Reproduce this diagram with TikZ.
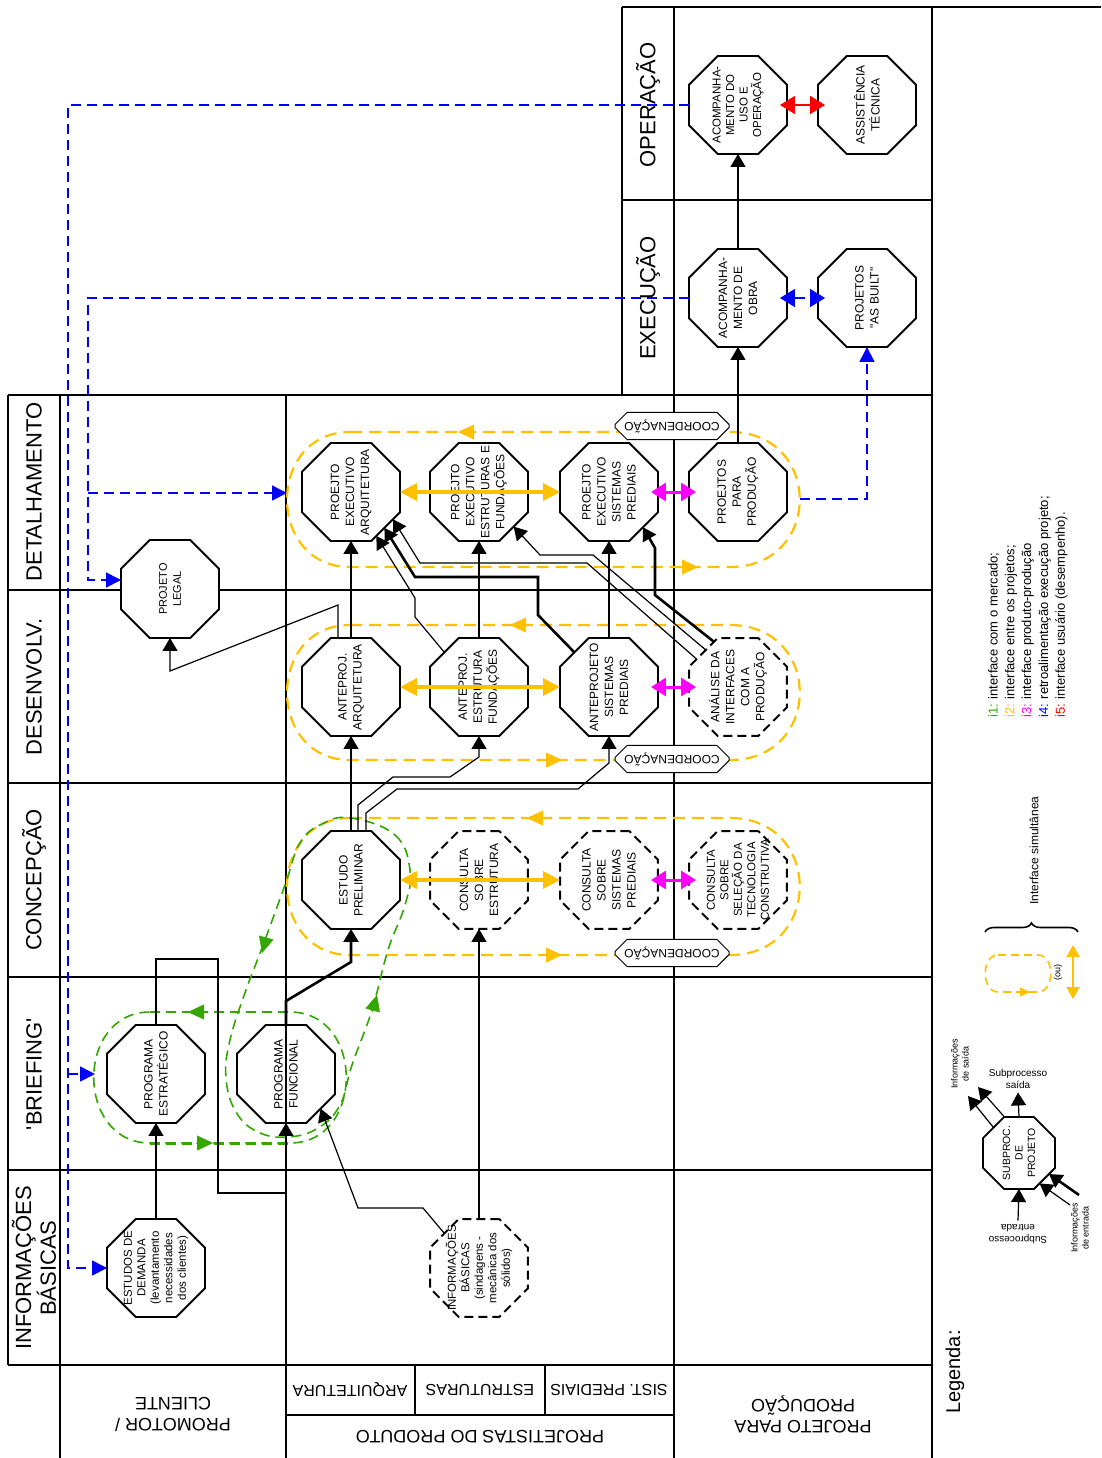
\documentclass[tikz,border=0pt]{standalone}
\usepackage{fontspec}
\setmainfont{Liberation Sans}
\usetikzlibrary{shapes.geometric, shapes.misc, arrows.meta, decorations.pathreplacing}

\definecolor{coordorange}{RGB}{255,192,0}
\definecolor{mktgreen}{RGB}{51,166,0}
\definecolor{prodmagenta}{RGB}{255,0,255}

\newcommand{\fsz}[2]{\fontsize{#1}{#2}\selectfont}

\tikzset{
  gridline/.style={line width=1.3pt},
  oct/.style={regular polygon, regular polygon sides=8, minimum size=106pt,
    inner sep=0pt, outer sep=0pt, draw, line width=1.8pt, fill=white},
  octdash/.style={oct, dash pattern=on 9pt off 5pt, line width=2pt},
  otxt/.style={rotate=90, align=center, inner sep=0pt, font=\fsz{12}{15}},
  otxts/.style={otxt, font=\fsz{11.5}{13.5}},
  phaselabel/.style={rotate=90, align=center, font=\fsz{22}{23}},
  colhead/.style={rotate=180, align=center, font=\fsz{18}{21}},
  subhead/.style={rotate=180, font=\fsz{16}{18}},
  coordbox/.style={chamfered rectangle, chamfered rectangle xsep=6pt,
    chamfered rectangle ysep=6pt, draw, fill=white, line width=1pt, rotate=180,
    minimum width=114pt, minimum height=27pt, inner sep=1pt, font=\fsz{12}{14}},
  flowtip/.style={-{Triangle[length=13pt,width=15pt]}},
  flow/.style={draw, line width=1.2pt, flowtip},
  flowthick/.style={flow, line width=2.6pt},
  coordloop/.style={draw=coordorange, line width=2.2pt, dash pattern=on 12pt off 7pt},
  mktloop/.style={draw=mktgreen, line width=1.6pt, dash pattern=on 10pt off 6pt},
  retro/.style={draw=blue, line width=1.6pt, dash pattern=on 10pt off 6pt,
    -{Triangle[length=15pt,width=15pt]}},
  looptip/.style={solid, -{Triangle[length=16pt,width=15pt]}},
  coordboth/.style={draw=coordorange, line width=3.5pt,
    {Triangle[length=17pt,width=17pt]}-{Triangle[length=17pt,width=17pt]}},
  shortboth/.style={shorten <=-7pt, shorten >=-7pt,
    {Triangle[length=15pt,width=18pt]}-{Triangle[length=15pt,width=18pt]}},
  prodboth/.style={draw=prodmagenta, line width=3pt, shortboth},
}

\begin{document}
\begin{tikzpicture}[x=1pt, y=-1pt]
    \useasboundingbox (0,0) rectangle (1101,1458);

    % 1. Table frame
    \draw[gridline] (622,7) -- (1101,7);
    \draw[gridline] (622,7) -- (622,395);
    \draw[gridline] (622,200) -- (932,200);
    \foreach \y in {395,590,783,977,1170,1365}
        \draw[gridline] (8,\y) -- (932,\y);
    \draw[gridline] (8,395) -- (8,1365);
    \foreach \x in {60,286} \draw[gridline] (\x,395) -- (\x,1458);
    \foreach \x in {674,932} \draw[gridline] (\x,7) -- (\x,1458);
    \draw[gridline] (286,1415) -- (674,1415);
    \foreach \x in {415,545} \draw[gridline] (\x,1365) -- (\x,1415);

    % Phase labels
    \node[phaselabel] (fOPE) at (648,105) {OPERAÇÃO};
    \node[phaselabel] (fEXE) at (648,298) {EXECUÇÃO};
    \node[phaselabel] (fDET) at (34,492) {DETALHAMENTO};
    \node[phaselabel] (fDES) at (34,687) {DESENVOLV.};
    \node[phaselabel] (fCON) at (34,880) {CONCEPÇÃO};
    \node[phaselabel] (fBRI) at (34,1074) {\textquotesingle BRIEFING\textquotesingle};
    \node[phaselabel] (fINF) at (34,1268) {INFORMAÇÕES\\BÁSICAS};

    % Column headers (upside down)
    \node[colhead] (hPRO) at (173,1414) {PROMOTOR /\\CLIENTE};
    \node[subhead] (hARQ) at (350,1390) {ARQUITETURA};
    \node[subhead] (hEST) at (480,1390) {ESTRUTURAS};
    \node[subhead] (hSIS) at (609,1390) {SIST. PREDIAIS};
    \node[colhead] (hPPR) at (480,1437) {PROJETISTAS DO PRODUTO};
    \node[colhead] (hPPP) at (803,1414) {PROJETO PARA\\PRODUÇÃO};

    % 2. Coordination loops (i2)
    \foreach \yt/\yb in {432/567, 625/760, 818/955}
        \draw[coordloop] (350,\yt) -- (730,\yt) .. controls (823,\yt) and (823,\yb) .. (730,\yb)
            -- (350,\yb) .. controls (266,\yb) and (266,\yt) .. (350,\yt);
    \draw[coordorange, looptip] (476,432) -- (458,432);
    \draw[coordorange, looptip] (680,567) -- (698,567);
    \draw[coordorange, looptip] (528,625) -- (510,625);
    \draw[coordorange, looptip] (544,760) -- (562,760);
    \draw[coordorange, looptip] (545,818) -- (527,818);
    \draw[coordorange, looptip] (544,955) -- (562,955);

    % Market loops (i1)
    \draw[mktloop] (150,1012) -- (290,1012) .. controls (365,1012) and (365,1143) .. (290,1143)
        -- (150,1143) .. controls (75,1143) and (75,1012) .. (150,1012);
    \draw[mktloop, line width=3pt] (150,1143) -- (290,1143);
    \draw[mktloop] plot[smooth cycle, tension=0.7] coordinates {(351,818) (395,835) (410,870)
        (405,905) (388,950) (372,1010) (352,1065) (340,1105) (318,1128) (288,1137) (258,1132)
        (236,1112) (226,1078) (230,1040) (246,990) (262,948) (285,885) (300,843) (322,824)};
    \draw[mktgreen, looptip] (205,1012) -- (188,1012);
    \draw[mktgreen, looptip] (196,1143) -- (213,1143);
    \draw[mktgreen, looptip] (267,935) -- (262,953);
    \draw[mktgreen, looptip] (372,1013) -- (377,995);

    % 3. Subprocess nodes
    \node[oct, label={[otxt, font=\fsz{11}{14}]center:PROJETO\\LEGAL}] (PL) at (170,589) {};
    \node[oct, label={[otxt]center:PROEJTO\\EXECUTIVO\\ARQUITETURA}] (PEA) at (351,492) {};
    \node[oct, label={[otxt]center:PROEJTO\\EXECUTIVO\\ESTRUTURAS E\\FUNDAÇÕES}] (PEE) at (479,492) {};
    \node[oct, label={[otxt]center:PROEJTO\\EXECUTIVO\\SISTEMAS\\PREDIAIS}] (PES) at (609,492) {};
    \node[oct, label={[otxt]center:PROEJTOS\\PARA\\PRODUÇÃO}] (PPP) at (738,492) {};
    \node[oct, label={[otxt]center:ANTEPROJ.\\ARQUITETURA}] (AA) at (351,687) {};
    \node[oct, label={[otxt]center:ANTEPROJ.\\ESTRUTURA\\FUNDAÇÕES}] (AE) at (479,687) {};
    \node[oct, label={[otxt]center:ANTEPROJETO\\SISTEMAS\\PREDIAIS}] (AS) at (609,687) {};
    \node[octdash, label={[otxt]center:ANÁLISE DA\\INTERFACES\\COM A\\PRODUÇÃO}] (AN) at (738,687) {};
    \node[oct, label={[otxt]center:ESTUDO\\PRELIMINAR}] (EP) at (351,880) {};
    \node[octdash, label={[otxt]center:CONSULTA\\SOBRE\\ESTRUTURA}] (CSE) at (479,880) {};
    \node[octdash, label={[otxt]center:CONSULTA\\SOBRE\\SISTEMAS\\PREDIAIS}] (CSS) at (609,880) {};
    \node[octdash, label={[otxts]center:CONSULTA\\SOBRE\\SELEÇÃO DA\\TECNOLOGIA\\CONSTRUTIVA}] (CST) at (738,880) {};
    \node[oct, label={[otxt]center:PROGRAMA\\ESTRATÉGICO}] (PE) at (156,1074) {};
    \node[oct, fill=none, label={[otxt]center:PROGRAMA\\FUNCIONAL}] (PF) at (286,1074) {};
    \node[oct, label={[otxts]center:ESTUDOS DE\\DEMANDA\\(levantamento\\necessidades\\dos clientes)}] (ED) at (156,1268) {};
    \node[octdash, label={[otxts]center:INFORMAÇÕES\\BÁSICAS\\(sindagens -\\mecânica dos\\sólidos)}] (IB) at (479,1268) {};
    \node[oct, label={[otxt]center:ACOMPANHA-\\MENTO DE\\OBRA}] (AO) at (738,298) {};
    \node[oct, label={[otxt]center:PROJETOS\\\textquotedbl AS BUILT\textquotedbl}] (PAB) at (867,298) {};
    \node[oct, label={[otxts]center:ACOMPANHA-\\MENTO DO\\USO E\\OPERAÇÃO}] (AU) at (738,105) {};
    \node[oct, label={[otxt]center:ASSISTÊNCIA\\TÉCNICA}] (AT) at (867,105) {};

    % 4. Flow connectors
    \draw[flow] (ED.north) -- (PE.south);
    \draw[flow] (PE.north) -- ++(0,-66) -| (218,1193) -| (PF.south);
    \draw[flowthick] (PF.north) -- ++(0,-24) -- (351,962) -- (EP.south);
    \draw[flow] (IB.north) -- (CSE.south);
    \draw[flow] (IB.135) -- (423,1208) -- (358,1208) -- (PF.-45);
    \draw[flow] (EP.north) -- (AA.south);
    \draw[flow] ([xshift=7pt]EP.north) -- (358,805) -- (393,777) -- (450,777) -- (479,757) -- (AE.south);
    \draw[flow] ([xshift=15pt]EP.north) -- (366,813) -- (397,789) -- (578,789) -- (609,763) -- (AS.south);
    \draw[flow] (AA.north) -- (PEA.south);
    \draw[flow] ([xshift=-13pt]AA.north) -- (338,605) -- (170,671) -- (PL.south);
    \draw[flow] (AE.north) -- (PEE.south);
    \draw[flow] (AS.north) -- (PES.south);
    \draw[flow] (AE.135) -- (415,617) -- (415,598) -- (PEA.-60);
    \draw[flowthick] (AS.135) -- (538,615) -- (538,577) -- (415,577) -- (PEA.-47);
    \draw[flow] (AN.146) -- (587,563) -- (420,563) -- (PEA.-33);
    \draw[flow] (AN.131) -- (593,555) -- (540,555) -- (PEE.-45);
    \draw[flowthick] (AN.118) -- (655,595) -- (655,548) -- (PES.-46);
    \draw[flow] (PPP.north) -- (AO.south);
    \draw[flow] (AO.north) -- (AU.south);

    % 5. Feedback (i4) and user (i5) interfaces
    \coordinate (L1w) at (95,1074);
    \coordinate (L2w) at (287,493);
    \coordinate (L2e) at (800,499);
    \draw[retro] (AU.west) -| (68,1268) -- (ED.west);
    \draw[retro] (68,1074) -- (L1w);
    \draw[retro] (AO.west) -| (88,580) -- ([yshift=9pt]PL.west);
    \draw[retro] (88,493) -- (L2w);
    \draw[retro] (L2e) -| (PAB.south);
    \draw[retro, shortboth] (AO.east) -- (PAB.west);
    \draw[red, line width=1.8pt, shortboth] (AU.east) -- (AT.west);

    % Interfaces between projects (i2) and product-production (i3)
    \draw[coordboth] (PEA.east) -- (PES.west);
    \draw[coordboth] (AA.east) -- (AS.west);
    \draw[coordboth] (EP.east) -- (CSS.west);
    \draw[prodboth] (PES.east) -- (PPP.west);
    \draw[prodboth] (AS.east) -- (AN.west);
    \draw[prodboth] (CSS.east) -- (CST.west);

    \node[coordbox] (cDET) at (672,426) {COORDENAÇÃO};
    \node[coordbox] (cDES) at (672,759) {COORDENAÇÃO};
    \node[coordbox] (cCON) at (672,953) {COORDENAÇÃO};

    % 6. Legend
    \node[rotate=90, anchor=north west, align=left, inner sep=0pt, font=\fsz{13}{16.8}] (lInt) at (988,718)
        {\textcolor{mktgreen}{i1:} interface com o mercado;\\
         \textcolor{coordorange}{i2:} interface entre os projetos;\\
         \textcolor{prodmagenta}{i3:} interface produto-produção\\
         \textcolor{blue}{i4:} retroalimentação execução projeto;\\
         \textcolor{red}{i5:} interface usuário (desempenho).};

    \node[rotate=90, anchor=west, font=\fsz{12}{14}] (lSim) at (1034,908) {Interface simultânea};
    \draw[line width=1.6pt, decorate, decoration={brace, amplitude=9pt}] (985,932) -- (1078,932);
    \draw[coordorange, line width=1.6pt, dash pattern=on 8pt off 5pt] (998,955) -- (1038,955)
        .. controls (1055,955) and (1055,992) .. (1038,992) -- (998,992)
        .. controls (981,992) and (981,955) .. (998,955);
    \draw[coordorange, solid, -{Triangle[length=10pt,width=9pt]}] (1018,992) -- (1030,992);
    \node[rotate=90, font=\fsz{9}{10}] (lOu) at (1058,972) {(ou)};
    \draw[coordorange, line width=2pt, {Triangle[length=12pt,width=13pt]}-{Triangle[length=12pt,width=13pt]}] (1073,945) -- (1073,999);

    \node[oct, minimum size=78pt, label={[otxt, font=\fsz{10.5}{12.5}]center:SUBPROC.\\DE\\PROJETO}] (SP) at (1019,1153) {};
    \node[font=\fsz{10}{12.5}, align=center] (lSo) at (1018,1079) {Subprocesso\\saída};
    \node[font=\fsz{10}{12.5}, align=center, rotate=180] (lSi) at (1018,1234) {Subprocesso\\entrada};
    \node[rotate=90, font=\fsz{9}{11}, align=center] (lIo) at (960,1064) {Informações\\de saída};
    \node[rotate=90, font=\fsz{9}{11}, align=center] (lIi) at (1080,1228) {Informações\\de entrada};
    \coordinate (o1) at (968,1096);
    \coordinate (o2) at (978,1087);
    \coordinate (e1) at (1070,1205);
    \coordinate (e2) at (1079,1195);
    \draw[flow] (SP.north) -- (lSo.south);
    \draw[flow] (lSi.south) -- (SP.south);
    \draw[flow] (SP.135) -- (o1);
    \draw[flow] (SP.112) -- (o2);
    \draw[flow] (e1) -- (SP.-56);
    \draw[flowthick] (e2) -- (SP.-35);

    \node[rotate=90, font=\fsz{20}{22}] (lLeg) at (955,1372) {Legenda:};

\end{tikzpicture}
\end{document}
